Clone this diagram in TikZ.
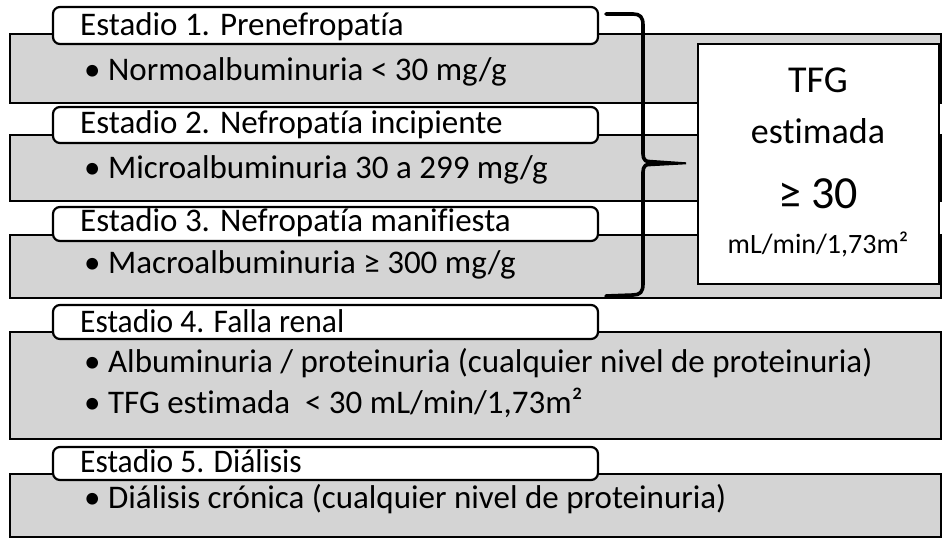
\documentclass[tikz,border=0pt]{standalone}
\usepackage{fontspec}
\setmainfont{Carlito}[Ligatures=NoCommon]
\definecolor{boxgray}{HTML}{D4D4D4}
\tikzset{
  graybox/.style={draw=black, line width=2.6pt, fill=boxgray, anchor=north west, inner sep=0pt, outer sep=0pt},
  stagelabel/.style={draw=black, line width=2.2pt, fill=white, rounded corners=7pt, anchor=north west, inner sep=0pt, outer sep=0pt},
  tfgbox/.style={draw=black, line width=1.4pt, fill=white, anchor=north west, inner sep=0pt, outer sep=0pt},
  bodytext/.style={anchor=base west, inner sep=0pt, font=\fontsize{33}{38}\selectfont},
  narrowtext/.style={anchor=base west, inner sep=0pt, font=\fontsize{33}{38}\selectfont\addfontfeature{FakeStretch=0.955}},
  tfgtext/.style={anchor=base, inner sep=0pt},
  bracepen/.style={line width=3.6pt, line cap=round, line join=round}
}
\begin{document}
\begin{tikzpicture}[x=1pt,y=-1pt]
\useasboundingbox (0,0) rectangle (943,538);
% gray stage boxes
\node[graybox, minimum width=931pt, minimum height=69pt] (b1) at (10,34) {};
\node[graybox, minimum width=931pt, minimum height=66pt] (b2) at (10,135) {};
\node[graybox, minimum width=931pt, minimum height=63pt] (b3) at (10,235) {};
\node[graybox, minimum width=931pt, minimum height=107pt] (b4) at (10,332) {};
\node[graybox, minimum width=931pt, minimum height=63pt] (b5) at (10,474) {};
% white stage labels
\node[stagelabel, minimum width=545pt, minimum height=37pt] (l1) at (53,7) {};
\node[stagelabel, minimum width=545pt, minimum height=36pt] (l2) at (53,107) {};
\node[stagelabel, minimum width=545pt, minimum height=34pt] (l3) at (53,207) {};
\node[stagelabel, minimum width=545pt, minimum height=34pt] (l4) at (53,305) {};
\node[stagelabel, minimum width=545pt, minimum height=33pt] (l5) at (53,447) {};
% TFG box
\node[tfgbox, minimum width=241pt, minimum height=240pt] (tfg) at (698,44) {};
% brace
\draw[bracepen] (606,14) -- (633,14) .. controls (640,14) and (643,17) .. (643,25)
  -- (643,154) .. controls (643,160) and (646,162) .. (652,163)
  .. controls (646,164) and (643,166) .. (643,172)
  -- (643,284) .. controls (643,292) and (640,295) .. (633,295) -- (606,296);
\fill (646,159.5) -- (686,162.3) -- (686,164.3) -- (646,166.5) -- cycle;
% label texts
\node[bodytext] (t1) at (80,35) {Estadio 1. Prenefropatía};
\node[bodytext] (t2) at (80,133) {Estadio 2. Nefropatía incipiente};
\node[bodytext] (t3) at (80,231) {Estadio 3. Nefropatía manifiesta};
\node[narrowtext] (t4) at (80,332) {Estadio 4. Falla renal};
\node[narrowtext] (t5) at (80,472) {Estadio 5. Diálisis};
% bullet texts
\node[bodytext] (c1) at (84,80) {• Normoalbuminuria < 30 mg/g};
\node[bodytext] (c2) at (84,178) {• Microalbuminuria 30 a 299 mg/g};
\node[bodytext] (c3) at (84,273) {• Macroalbuminuria ≥ 300 mg/g};
\node[bodytext] (c4a) at (84,372) {• Albuminuria / proteinuria (cualquier nivel de proteinuria)};
\node[bodytext] (c4b) at (84,413) {• TFG estimada \ < 30 mL/min/1,73m²};
\node[bodytext] (c5) at (84,508) {• Diálisis crónica (cualquier nivel de proteinuria)};
% TFG texts
\node[tfgtext, font=\fontsize{38}{44}\selectfont] (g1) at (818,92) {TFG};
\node[tfgtext, font=\fontsize{36}{44}\selectfont] (g2) at (818,143) {estimada};
\node[tfgtext, font=\fontsize{46}{52}\selectfont] (g3) at (818,208) {≥ 30};
\node[tfgtext, font=\fontsize{28}{32}\selectfont] (g4) at (818,253) {mL/min/1,73m²};
\end{tikzpicture}
\end{document}
